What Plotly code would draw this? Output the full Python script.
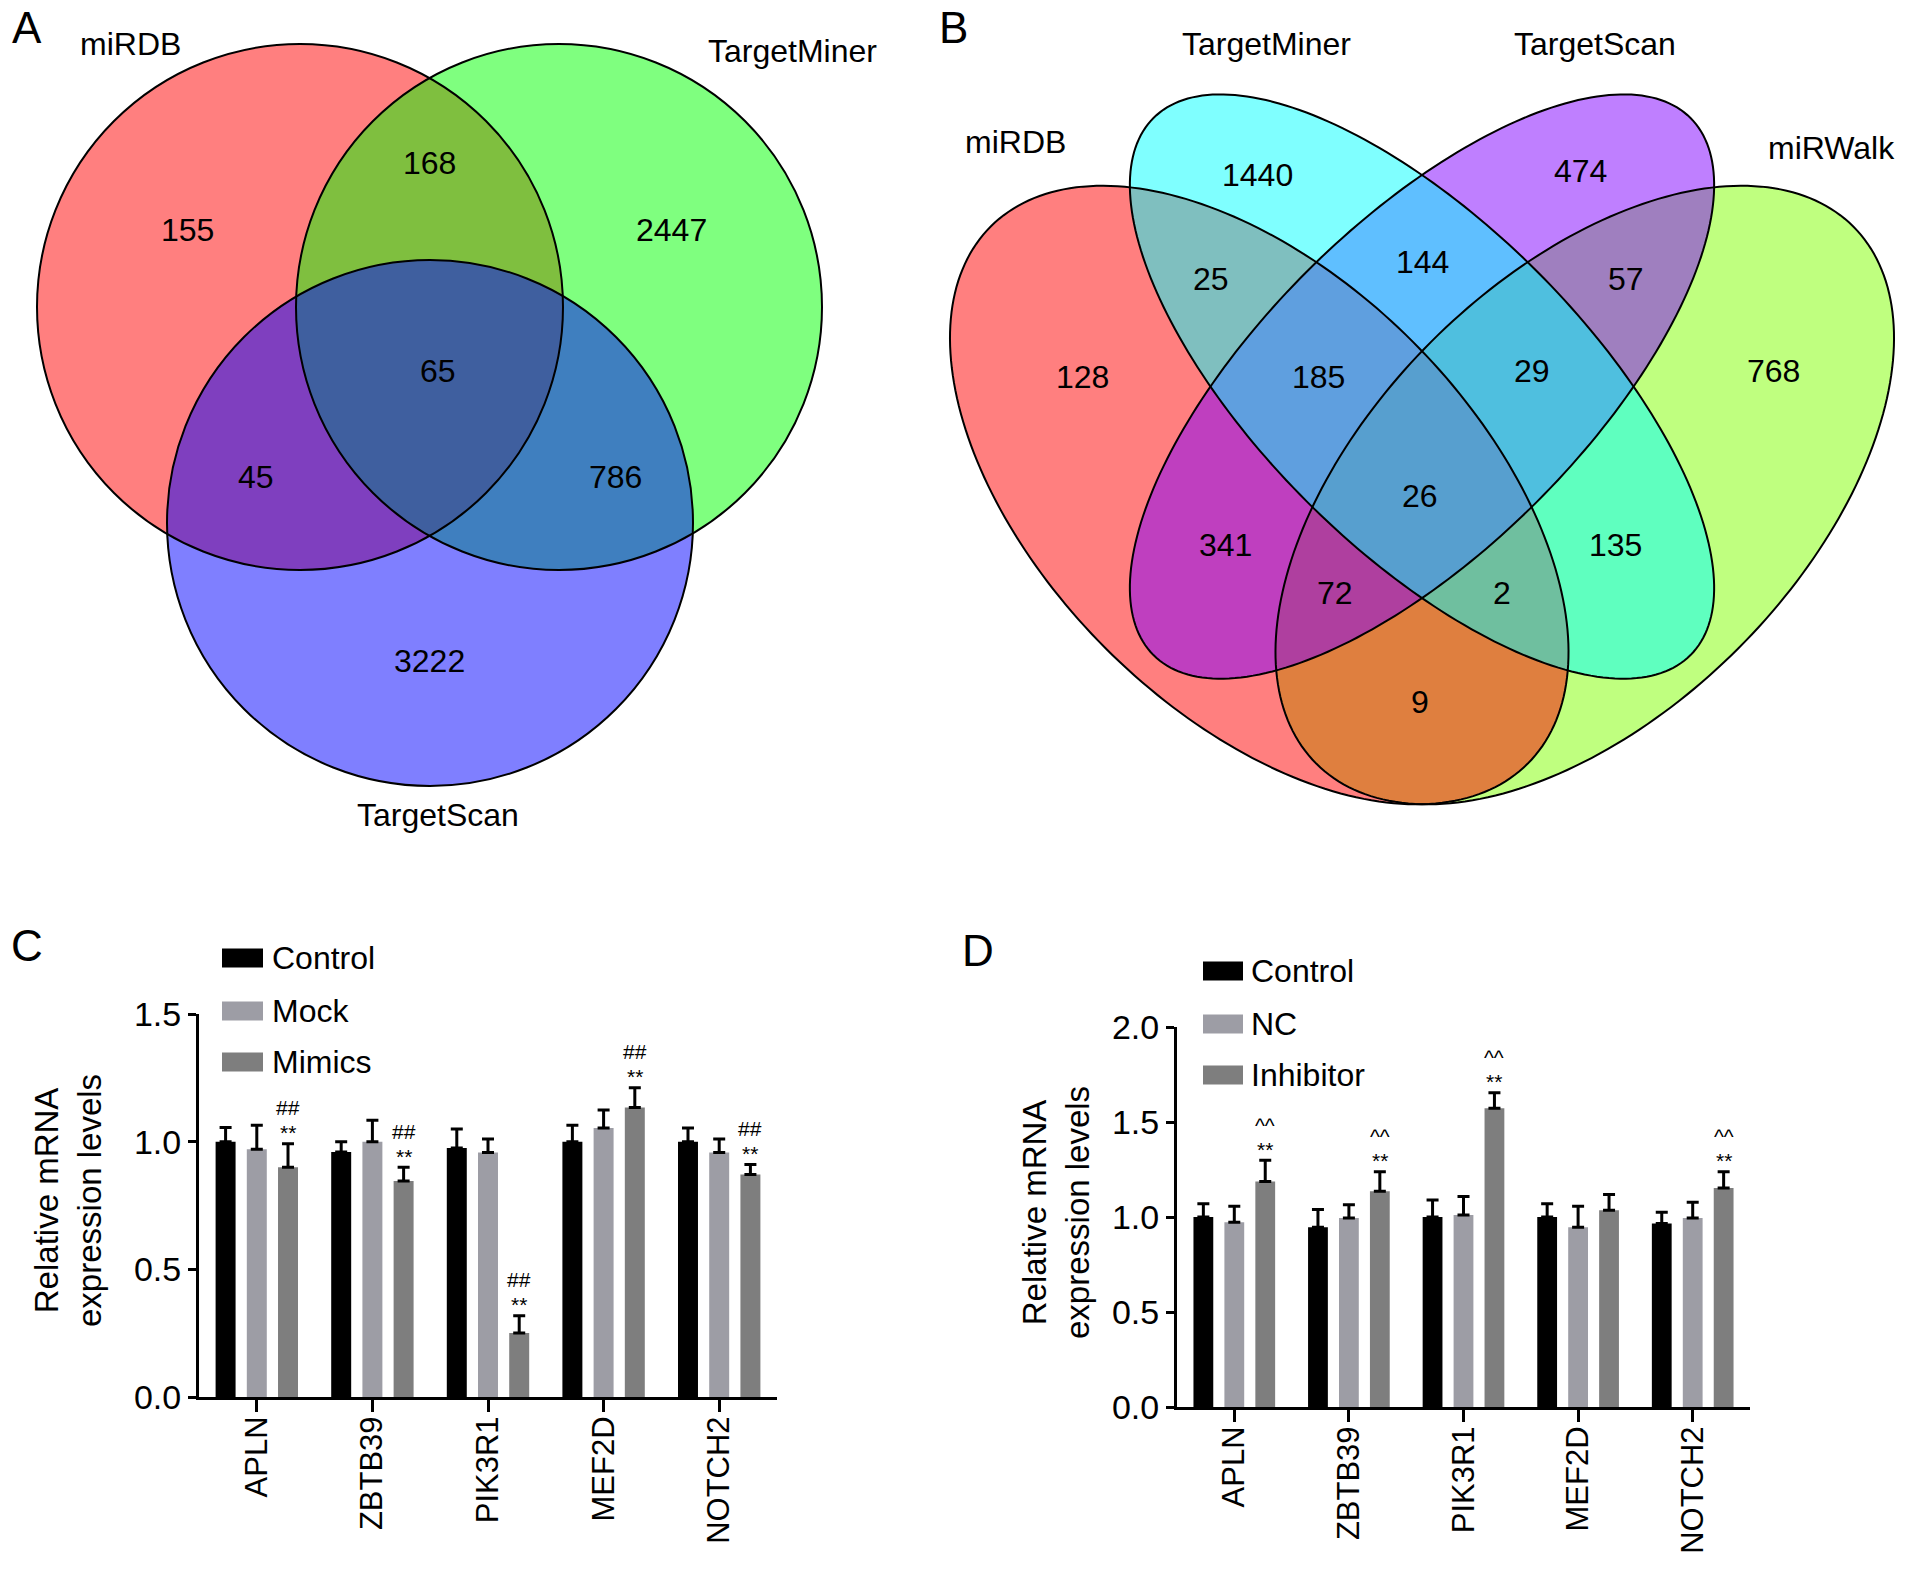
import numpy as np
import plotly.graph_objects as go

W, H = 1913, 1569
FONT = "Liberation Sans, Arial, Helvetica, sans-serif"

# ---------------- data ----------------
# Panel A: three-set Venn (region counts)
venn3_names = ["miRDB", "TargetMiner", "TargetScan"]
venn3_regions = ["miRDB", "miRDB&TargetMiner", "TargetMiner", "all",
                 "miRDB&TargetScan", "TargetMiner&TargetScan", "TargetScan"]
venn3_counts = [155, 168, 2447, 65, 45, 786, 3222]

# Panel B: four-set Venn (region counts)
venn4_names = ["miRDB", "TargetMiner", "TargetScan", "miRWalk"]
venn4_counts = [1440, 474, 25, 144, 57, 128, 185, 29, 768, 26, 341, 135, 72, 2, 9]

# Panels C and D: relative mRNA expression
genes = ["APLN", "ZBTB39", "PIK3R1", "MEF2D", "NOTCH2"]

c_groups = ["Control", "Mock", "Mimics"]
c_control = [1.00, 0.96, 0.975, 1.00, 1.00]
c_control_err = [0.055, 0.04, 0.075, 0.064, 0.054]
c_mock = [0.97, 1.00, 0.958, 1.054, 0.958]
c_mock_err = [0.094, 0.084, 0.052, 0.07, 0.052]
c_mimics = [0.90, 0.846, 0.251, 1.134, 0.871]
c_mimics_err = [0.092, 0.054, 0.067, 0.077, 0.04]
c_sig_top = ["##", "##", "##", "##", "##"]
c_sig_bottom = ["**", "**", "**", "**", "**"]

d_groups = ["Control", "NC", "Inhibitor"]
d_control = [1.00, 0.946, 1.00, 1.00, 0.966]
d_control_err = [0.07, 0.094, 0.09, 0.07, 0.059]
d_nc = [0.973, 0.995, 1.011, 0.946, 0.995]
d_nc_err = [0.083, 0.07, 0.097, 0.11, 0.083]
d_inhibitor = [1.187, 1.135, 1.573, 1.036, 1.153]
d_inhibitor_err = [0.112, 0.103, 0.081, 0.083, 0.085]
d_sig_top = ["^^", "^^", "^^", "", "^^"]
d_sig_bottom = ["**", "**", "**", "", "**"]

# ---------------- layout / styling constants ----------------
bar_colors = ["#000000", "#9d9da5", "#7e7e7e"]

# Venn A geometry (pixel space)
v3_centers = [(300, 307), (559, 307), (430, 523)]
v3_radius = 263
v3_fills = ["rgba(255,0,0,0.5)", "rgba(0,255,0,0.5)", "rgba(0,0,255,0.5)"]
v3_count_pos = [(187, 230), (429, 163), (671, 230), (438, 371),
                (256, 477), (615, 477), (429, 661)]
v3_name_pos = [(130, 44), (792, 51), (438, 815)]

# Venn B geometry (unit space -> pixel space)
v4_origin = (879.5, 1005.0)
v4_scale = 1085.0
v4_ellipses = [  # cx, cy, semi-major, semi-minor, angle(deg)
    (0.35, 0.47, 0.35, 0.20, -45),   # miRDB
    (0.50, 0.57, 0.35, 0.15, -45),   # TargetMiner
    (0.50, 0.57, 0.35, 0.15, 45),    # TargetScan
    (0.65, 0.47, 0.35, 0.20, 45),    # miRWalk
]
v4_fills = ["rgba(255,0,0,0.5)", "rgba(0,255,255,0.5)",
            "rgba(128,0,255,0.5)", "rgba(128,255,0,0.5)"]
v4_draw_order = [3, 0, 2, 1]
v4_count_pos = [(1257, 175), (1580, 171), (1211, 279), (1422, 262), (1626, 279),
                (1082, 377), (1318, 377), (1532, 371), (1773, 371), (1420, 496),
                (1225, 545), (1615, 545), (1335, 593), (1502, 593), (1420, 702)]
v4_name_pos = [(1015, 142), (1266, 44), (1595, 44), (1831, 148)]

# bar panel frames (pixel space)
c_frame = dict(x0=199, x1=777, ytop=1014, ybot=1397)
d_frame = dict(x0=1177, x1=1750, ytop=1027, ybot=1407)
BARGAP = 0.19
BARGROUPGAP = 0.36

VENN_FS = 32
TICK_FS = 34
CAT_FS = 31
LEG_FS = 32
TITLE_FS = 33
MARK_FS = 21
LETTER_FS = 44


def px_x(v):
    return v / W


def px_y(v):
    return 1 - v / H


def ellipse_path(cx, cy, a, b, ang):
    t = np.linspace(0, 2 * np.pi, 240, endpoint=False)
    th = np.deg2rad(ang)
    ux = cx + a * np.cos(t) * np.cos(th) - b * np.sin(t) * np.sin(th)
    uy = cy + a * np.cos(t) * np.sin(th) + b * np.sin(t) * np.cos(th)
    px = v4_origin[0] + v4_scale * ux
    py = v4_origin[1] - v4_scale * uy
    pts = [f"{x:.2f},{y:.2f}" for x, y in zip(px, py)]
    return "M" + " L".join(pts) + " Z"


fig = go.Figure()

# ---------------- bar traces ----------------
def add_bars(xa, ya, names, vals, errs):
    for name, v, e, col in zip(names, vals, errs, bar_colors):
        fig.add_trace(go.Bar(
            x=genes, y=v, name=name, xaxis=xa, yaxis=ya,
            marker=dict(color=col, line=dict(width=0)),
            error_y=dict(type="data", array=e, arrayminus=[0] * len(e),
                         symmetric=False, color="black", thickness=3, width=6),
            showlegend=False))


add_bars("x2", "y2", c_groups, [c_control, c_mock, c_mimics],
         [c_control_err, c_mock_err, c_mimics_err])
add_bars("x3", "y3", d_groups, [d_control, d_nc, d_inhibitor],
         [d_control_err, d_nc_err, d_inhibitor_err])

shapes = []
annotations = []


def text_at(x, y, text, size, xref="x", yref="y", **kw):
    d = dict(x=x, y=y, xref=xref, yref=yref, text=text, showarrow=False,
             xanchor="center", yanchor="middle",
             font=dict(size=size, color="black", family=FONT))
    d.update(kw)
    annotations.append(d)


# ---------------- Venn A ----------------
for (cx, cy), fc in zip(v3_centers, v3_fills):
    shapes.append(dict(type="circle", xref="x", yref="y",
                       x0=cx - v3_radius, x1=cx + v3_radius,
                       y0=cy - v3_radius, y1=cy + v3_radius,
                       fillcolor=fc, line=dict(width=0), layer="above"))
for (cx, cy) in v3_centers:
    shapes.append(dict(type="circle", xref="x", yref="y",
                       x0=cx - v3_radius, x1=cx + v3_radius,
                       y0=cy - v3_radius, y1=cy + v3_radius,
                       fillcolor="rgba(0,0,0,0)",
                       line=dict(color="black", width=2), layer="above"))
for cnt, (x, y) in zip(venn3_counts, v3_count_pos):
    text_at(x, y, str(cnt), VENN_FS)
for nm, (x, y) in zip(venn3_names, v3_name_pos):
    text_at(x, y, nm, VENN_FS)

# ---------------- Venn B ----------------
for i in v4_draw_order:
    shapes.append(dict(type="path", xref="x", yref="y",
                       path=ellipse_path(*v4_ellipses[i]),
                       fillcolor=v4_fills[i], line=dict(width=0), layer="above"))
for i in range(4):
    shapes.append(dict(type="path", xref="x", yref="y",
                       path=ellipse_path(*v4_ellipses[i]),
                       fillcolor="rgba(0,0,0,0)",
                       line=dict(color="black", width=2), layer="above"))
for cnt, (x, y) in zip(venn4_counts, v4_count_pos):
    text_at(x, y, str(cnt), VENN_FS)
for nm, (x, y) in zip(venn4_names, v4_name_pos):
    text_at(x, y, nm, VENN_FS)

# ---------------- panel letters ----------------
for letter, (x, y) in zip(["A", "B", "C", "D"],
                          [(27, 27), (953, 27), (27, 945), (978, 950)]):
    text_at(x, y, letter, LETTER_FS)

# ---------------- legends (manual) ----------------
def add_legend(names, x0, x1, ycenters, tx):
    for nm, col, yc in zip(names, bar_colors, ycenters):
        shapes.append(dict(type="rect", xref="x", yref="y",
                           x0=x0, x1=x1, y0=yc - 9.5, y1=yc + 9.5,
                           fillcolor=col, line=dict(width=0), layer="above"))
        text_at(tx, yc, nm, LEG_FS, xanchor="left")


add_legend(c_groups, 222, 263, [958, 1011, 1062], 270)
add_legend(d_groups, 1203, 1243, [971, 1024, 1075], 1249)

# ---------------- y-axis titles ----------------
for (x, y) in [(68, 1201), (1056, 1213)]:
    text_at(x, y, "Relative mRNA<br>expression levels", TITLE_FS, textangle=-90)

# ---------------- significance marks ----------------
def add_marks(xa, ya, frame, vals, errs, tops, bottoms, top_shift):
    slot = (frame["x1"] - frame["x0"]) / len(genes) * (1 - BARGAP) / 3
    for g, v, e, t, b in zip(genes, vals, errs, tops, bottoms):
        if b:
            text_at(g, v + e, b, MARK_FS, xref=xa, yref=ya,
                    xshift=slot, yshift=11)
        if t:
            text_at(g, v + e, t, MARK_FS, xref=xa, yref=ya,
                    xshift=slot, yshift=top_shift)


add_marks("x2", "y2", c_frame, c_mimics, c_mimics_err, c_sig_top, c_sig_bottom, 36)
add_marks("x3", "y3", d_frame, d_inhibitor, d_inhibitor_err, d_sig_top, d_sig_bottom, 35)

# ---------------- axes ----------------
def bar_axes(frame, yrange, xa_name, ya_name):
    xa = dict(domain=[px_x(frame["x0"]), px_x(frame["x1"])], anchor=ya_name,
              showline=True, linewidth=3, linecolor="black",
              ticks="outside", ticklen=12, tickwidth=3, tickcolor="black",
              tickangle=-90, ticklabelstandoff=-8,
              tickfont=dict(size=CAT_FS, color="black", family=FONT),
              showgrid=False, zeroline=False, fixedrange=True, automargin=False)
    ya = dict(domain=[px_y(frame["ybot"]), px_y(frame["ytop"])], anchor=xa_name,
              range=yrange, dtick=0.5, tickformat=".1f",
              showline=True, linewidth=3, linecolor="black",
              ticks="outside", ticklen=8, tickwidth=3, tickcolor="black",
              tickfont=dict(size=TICK_FS, color="black", family=FONT),
              showgrid=False, zeroline=False, fixedrange=True, automargin=False)
    return xa, ya


xa2, ya2 = bar_axes(c_frame, [0, 1.5], "x2", "y2")
xa3, ya3 = bar_axes(d_frame, [0, 2.0], "x3", "y3")

fig.update_layout(
    template="none",
    width=W, height=H, autosize=False,
    margin=dict(l=0, r=0, t=0, b=0, pad=0),
    paper_bgcolor="white", plot_bgcolor="rgba(0,0,0,0)",
    font=dict(family=FONT, color="black"),
    barmode="group", bargap=BARGAP, bargroupgap=BARGROUPGAP,
    xaxis=dict(domain=[0, 1], range=[0, W], visible=False, fixedrange=True,
               automargin=False),
    yaxis=dict(domain=[0, 1], range=[H, 0], visible=False, fixedrange=True,
               automargin=False),
    xaxis2=xa2, yaxis2=ya2, xaxis3=xa3, yaxis3=ya3,
    shapes=shapes, annotations=annotations,
    showlegend=False,
)

fig.write_html("out.html", config={"displayModeBar": False},
               post_script="document.body.style.margin='0';")
